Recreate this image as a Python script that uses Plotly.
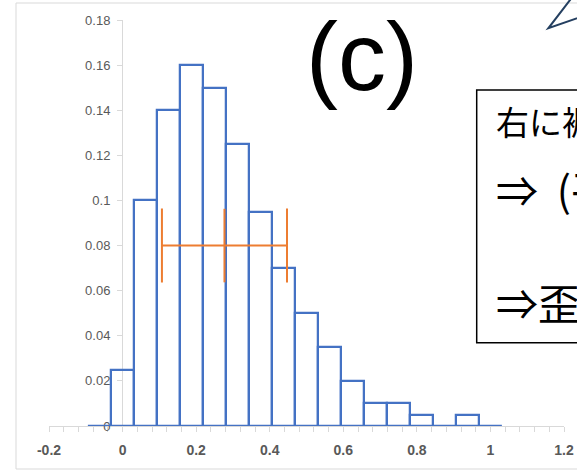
import plotly.graph_objects as go

# ---- data ----
bin_centers = [-0.0625, 0.0, 0.0625, 0.125, 0.1875, 0.25, 0.3125, 0.375, 0.4375,
               0.5, 0.5625, 0.625, 0.6875, 0.75, 0.8125, 0.875, 0.9375, 1.0]
freq = [0.0, 0.025, 0.10, 0.14, 0.16, 0.15, 0.125, 0.095, 0.07,
        0.05, 0.035, 0.02, 0.01, 0.01, 0.005, 0.0, 0.005, 0.0]
bin_width = 0.0625

mean_x = [0.277]
mean_y = [0.08]
sd_x = [0.170]
err_y = [0.0163]

x_tickvals = [-0.2, 0.0, 0.2, 0.4, 0.6, 0.8, 1.0, 1.2]
x_ticktext = ["-0.2", "0", "0.2", "0.4", "0.6", "0.8", "1", "1.2"]
x_minorvals = [-0.16, -0.12, -0.08, -0.04, 0.04, 0.08, 0.12, 0.16, 0.24, 0.28, 0.32, 0.36,
               0.44, 0.48, 0.52, 0.56, 0.64, 0.68, 0.72, 0.76, 0.84, 0.88, 0.92, 0.96,
               1.04, 1.08, 1.12, 1.16]
y_tickvals = [0.0, 0.02, 0.04, 0.06, 0.08, 0.10, 0.12, 0.14, 0.16, 0.18]
y_ticktext = ["0", "0.02", "0.04", "0.06", "0.08", "0.1", "0.12", "0.14", "0.16", "0.18"]

panel_label = "(c)"
box_lines = ["右に裾が長い分布", "⇒\u00a0\u00a0(平均値) ＞ (中央値)", "⇒歪度は正"]

AXIS_GRAY = "#D9D9D9"
LABEL_GRAY = "#595959"
BLUE = "#4472C4"
ORANGE = "#ED7D31"

fig = go.Figure()
fig.add_trace(go.Bar(
    x=bin_centers, y=freq, width=bin_width,
    marker=dict(color="rgba(0,0,0,0)", line=dict(color=BLUE, width=2.25)),
    showlegend=False, hoverinfo="skip",
))
fig.add_trace(go.Scatter(
    x=mean_x, y=mean_y, mode="markers",
    marker=dict(size=1, color="rgba(0,0,0,0)"),
    error_x=dict(type="data", array=sd_x, symmetric=True, color=ORANGE, thickness=2, width=37),
    error_y=dict(type="data", array=err_y, symmetric=True, color=ORANGE, thickness=2, width=0),
    showlegend=False, hoverinfo="skip",
))

# plot area pixel frame: x 49..564, y 20..426
L, R, T, B = 49, 13, 20, 44
W, H = 577, 470
pw = W - L - R
ph = H - T - B


def px_x(p):
    return (p - L) / pw


def px_y(p):
    return (H - B - p) / ph


yaxis_pos = px_x(122)

fig.update_layout(
    width=W, height=H, autosize=False,
    margin=dict(l=L, r=R, t=T, b=B, pad=0, autoexpand=False),
    paper_bgcolor="white", plot_bgcolor="white",
    bargap=0,
    xaxis=dict(
        range=[-0.2, 1.2], tickmode="array", tickvals=x_tickvals, ticktext=x_ticktext,
        ticks="outside", ticklen=5, tickcolor=AXIS_GRAY, tickwidth=1,
        minor=dict(tickmode="array", tickvals=x_minorvals, ticks="outside", ticklen=5,
                   tickcolor=AXIS_GRAY, tickwidth=1, showgrid=False),
        showline=True, linecolor=AXIS_GRAY, linewidth=1, automargin=False,
        showgrid=False, zeroline=False, layer="below traces",
        tickfont=dict(family="Liberation Sans", size=14, color=LABEL_GRAY, weight="bold"),
        ticklabelstandoff=6,
    ),
    xaxis2=dict(
        range=[-0.2, 1.2], overlaying="x", matches="x", anchor="y", automargin=False,
        tickmode="array", tickvals=x_tickvals, showticklabels=False,
        ticks="inside", ticklen=5, tickcolor=AXIS_GRAY, tickwidth=1,
        minor=dict(tickmode="array", tickvals=x_minorvals, ticks="inside", ticklen=5,
                   tickcolor=AXIS_GRAY, tickwidth=1, showgrid=False),
        showline=False, showgrid=False, zeroline=False, layer="below traces",
    ),
    yaxis=dict(
        range=[0, 0.18], anchor="free", position=yaxis_pos, automargin=False,
        tickmode="array", tickvals=y_tickvals, ticktext=y_ticktext,
        ticks="outside", ticklen=5, tickcolor=AXIS_GRAY, tickwidth=1,
        showline=True, linecolor=AXIS_GRAY, linewidth=1,
        showgrid=False, zeroline=False, layer="below traces",
        tickfont=dict(family="Liberation Sans", size=13, color=LABEL_GRAY),
        ticklabelstandoff=4,
    ),
    yaxis2=dict(
        range=[0, 0.18], overlaying="y", matches="y", anchor="free", position=yaxis_pos,
        automargin=False,
        tickmode="array", tickvals=y_tickvals, showticklabels=False,
        ticks="inside", ticklen=5, tickcolor=AXIS_GRAY, tickwidth=1,
        showline=False, showgrid=False, zeroline=False, layer="below traces",
    ),
)

shapes = [
    # outer chart border
    dict(type="rect", xref="paper", yref="paper",
         x0=px_x(16), x1=px_x(600), y0=px_y(469), y1=px_y(3),
         line=dict(color=AXIS_GRAY, width=1), fillcolor="rgba(0,0,0,0)", layer="below"),
    # text box
    dict(type="rect", xref="paper", yref="paper",
         x0=px_x(476.7), x1=px_x(640), y0=px_y(342.7), y1=px_y(90),
         line=dict(color="black", width=1.5), fillcolor="white"),
    # callout pointer
    dict(type="path", xref="paper", yref="paper",
         path="M {a},{b} L {c},{d} L {e},{f}".format(
             a=px_x(577.7), b=px_y(-10), c=px_x(548.3), d=px_y(28.3), e=px_x(600), f=px_y(10.3)),
         line=dict(color="#243F60", width=2)),
]
fig.update_layout(shapes=shapes)

annotations = [
    dict(text=panel_label, xref="paper", yref="paper", x=px_x(362), y=px_y(56),
         xanchor="center", yanchor="middle", showarrow=False,
         font=dict(family="Liberation Sans", size=96, color="black")),
]
line_y = [121, 188, 302]
line_size = [33, 42, 42]
for txt, yy, fs in zip(box_lines, line_y, line_size):
    annotations.append(dict(text=txt, xref="paper", yref="paper", x=px_x(494), y=px_y(yy),
                            xanchor="left", yanchor="middle", showarrow=False,
                            font=dict(family="Noto Sans CJK JP", size=fs, color="black")))
fig.update_layout(annotations=annotations)

fig.write_html("out.html", config={"displayModeBar": False},
               post_script="document.body.style.margin='0';")
